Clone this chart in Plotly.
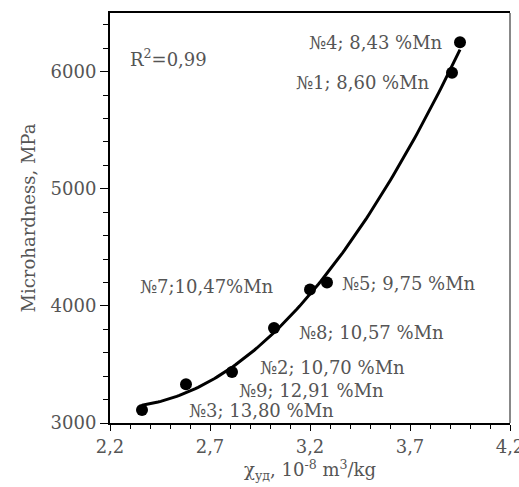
import numpy as np
import plotly.graph_objects as go

# data
chi = [2.36, 2.58, 2.81, 3.02, 3.20, 3.285, 3.91, 3.95]
hv = [3110, 3330, 3435, 3810, 4140, 4200, 5990, 6250]

labels = ["№4; 8,43 %Mn", "№1; 8,60 %Mn", "№7;10,47%Mn", "№5; 9,75 %Mn",
          "№8; 10,57 %Mn", "№2; 10,70 %Mn", "№9; 12,91 %Mn", "№3; 13,80 %Mn"]
label_x = [3.875, 3.81, 2.34, 3.35, 3.135, 2.94, 2.835, 2.585]
label_y = [6248, 5910, 4168, 4194, 3776, 3477, 3281, 3111]
label_anchor = ["right", "right", "left", "left", "left", "left", "left", "left"]

# trend line (quadratic fit of the measured points)
coef = np.polyfit(chi, hv, 2)
xf = np.linspace(min(chi), max(chi), 120)
yf = np.polyval(coef, xf)

FONT = "DejaVu Serif"
GREY = "#555555"
FS = 18

fig = go.Figure()
fig.add_trace(go.Scatter(x=xf, y=yf, mode="lines",
                         line=dict(color="black", width=3), showlegend=False,
                         hoverinfo="skip"))
fig.add_trace(go.Scatter(x=chi, y=hv, mode="markers",
                         marker=dict(color="black", size=12), showlegend=False))

for t, x, y, a in zip(labels, label_x, label_y, label_anchor):
    fig.add_annotation(x=x, y=y, text=t, showarrow=False, xanchor=a,
                       yanchor="middle", font=dict(family=FONT, size=FS, color=GREY))
fig.add_annotation(x=2.29, y=6120, text="R<sup>2</sup>=0,99", showarrow=False,
                   xanchor="left", yanchor="middle",
                   font=dict(family=FONT, size=FS, color=GREY))

# right frame line
fig.add_shape(type="line", xref="paper", yref="paper", x0=1, x1=1, y0=0, y1=1,
              line=dict(color="#888888", width=2))

fig.update_layout(
    width=519, height=487,
    margin=dict(l=110, r=9, t=13, b=64),
    plot_bgcolor="white", paper_bgcolor="white",
    separators=",.",
    font=dict(family=FONT, size=FS, color=GREY),
    xaxis=dict(range=[2.2, 4.2], tickvals=[2.2, 2.7, 3.2, 3.7, 4.2],
               tickformat=".1f", showgrid=False, zeroline=False,
               ticklabeloverflow="allow", automargin=False,
               showline=True, linecolor="black", linewidth=2, mirror=True,
               ticks="outside", ticklen=6, tickcolor="black", tickwidth=1,
               minor=dict(dtick=0.1, tick0=2.2, ticks="outside", ticklen=4,
                          tickcolor="black"),
               title=dict(text="χ<sub>уд</sub>, 10<sup>-8</sup> m<sup>3</sup>/kg",
                          standoff=2, font=dict(family=FONT, size=FS, color=GREY))),
    yaxis=dict(range=[3000, 6500], tickvals=[3000, 4000, 5000, 6000],
               tickformat="d", showgrid=False, zeroline=False, automargin=False,
               showline=True, linecolor="black", linewidth=2,
               ticks="outside", ticklen=8, tickcolor="black", tickwidth=1,
               minor=dict(dtick=200, tick0=3000, ticks="outside", ticklen=5,
                          tickcolor="black"),
               title=dict(text="Microhardness, MPa", standoff=10,
                          font=dict(family=FONT, size=FS, color=GREY))),
)

fig.write_html("out.html")
